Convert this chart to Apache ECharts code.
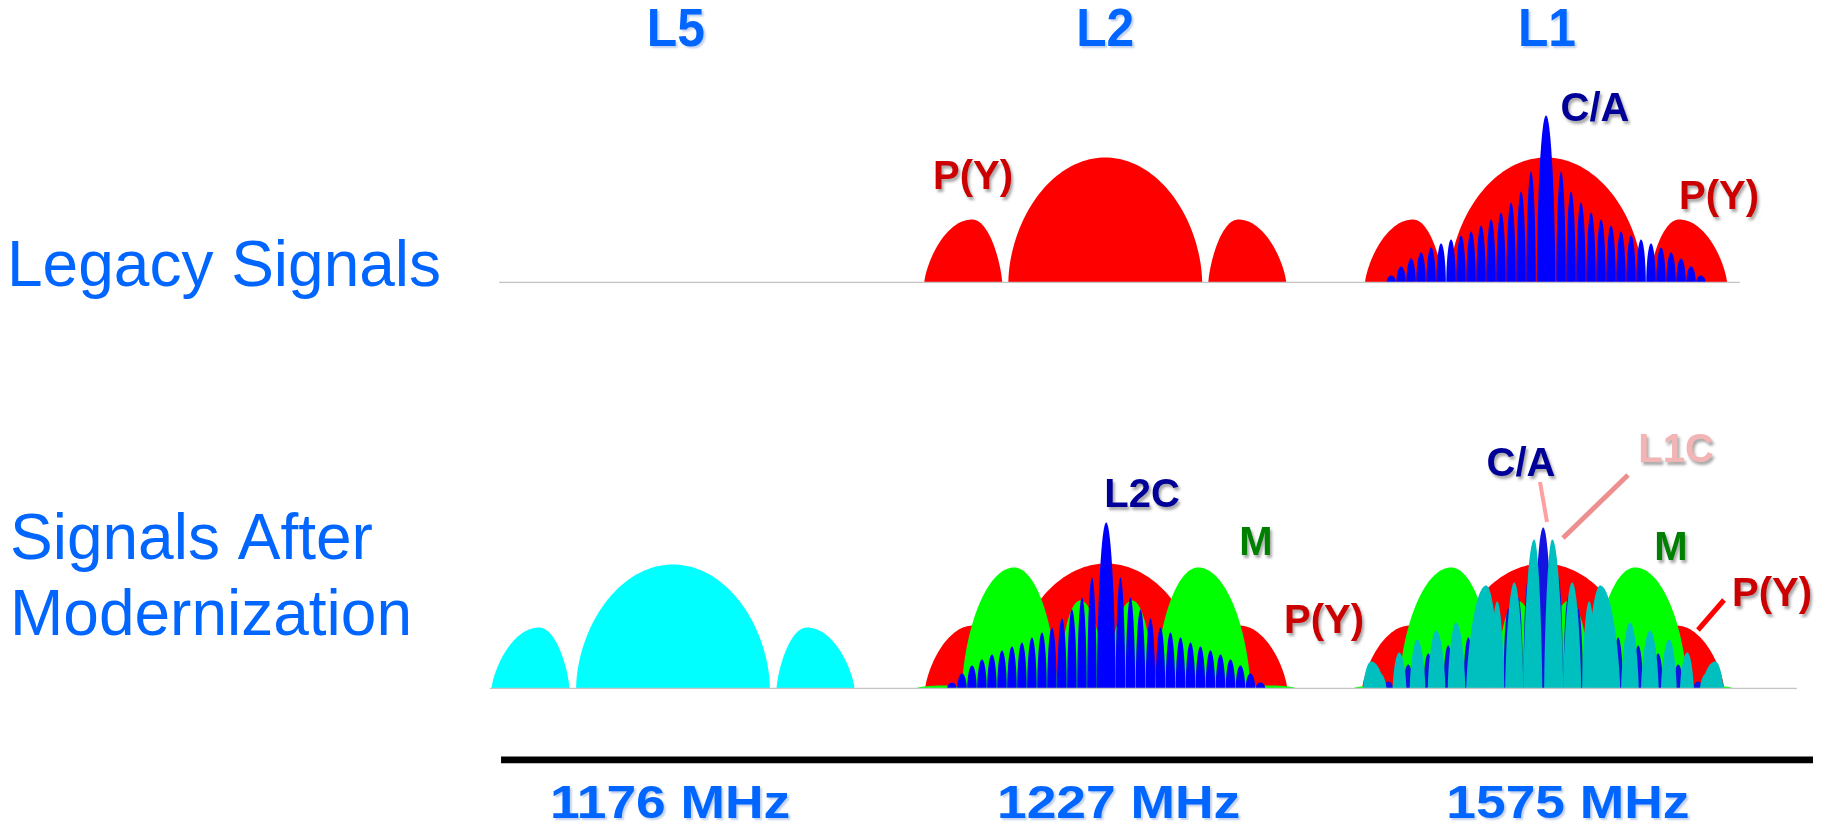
<!DOCTYPE html>
<html><head><meta charset="utf-8">
<script src="https://cdn.jsdelivr.net/npm/echarts@6/dist/echarts.min.js"></script>
<style>html,body{margin:0;padding:0;background:#fff;}#c{width:1826px;height:826px;}</style>
</head><body><div id="c"></div>
<script>
// ---------------- DATA (schematic frequency axis, MHz; power in relative units) ----------------
const bandNames = ['L5', 'L2', 'L1'];
const bandNamePos = [0.3, 45.5, 92.0];
const freqLabels = ['1176 MHz', '1227 MHz', '1575 MHz'];
const freqLabelPos = [-0.3, 46.9, 94.2];

// carrier positions on the schematic axis
const legacyCenters = { L2: 45.5, L1: 91.9 };
const modernCenters = { L5: 0.0, L2: 45.6, L1: 91.6 };

// baselines [start, end]
const legacyBaseline = [-18.3, 112.3];
const modernBaseline = [-19.3, 118.3];
const freqAxisRange = [-18.1, 120.0];

// lobes: [start offset, peak offset, end offset, peak power]
const pyLobes = [[-19.05, -14.0, -10.85, 31.5], [-10.2, 0, 10.2, 62.5], [10.85, 14.0, 19.05, 31.5]];
const l5Lobes = [[-19.1, -14.1, -10.9, 30.5], [-10.2, 0, 10.2, 62], [10.9, 14.1, 19.1, 30.5]];
const mLobes = [[-20.0, -17.2, -15.0, 1.5], [-15.16, -9.68, -5.16, 60.5], [-4.95, -2.74, -0.21, 44],
                [0.21, 2.74, 4.95, 44], [5.16, 9.68, 15.16, 60.5], [15.0, 17.2, 20.0, 1.5]];
const l1cLobes = [
  [-18.95, -18.11, -16.7, 13.5], [-17.8, -17.16, -16.5, 7.5], [-15.85, -15.16, -14.4, 18],
  [-14.05, -13.26, -12.4, 24.5], [-12.15, -11.26, -10.3, 29], [-10.05, -9.16, -8.2, 33],
  [-8.1, -6.0, -4.6, 51.5], [-5.6, -4.84, -4.1, 43.5], [-4.0, -3.05, -2.1, 53],
  [-2.1, -0.95, -0.1, 74.5], [0.1, 0.95, 2.1, 74.5], [2.1, 3.05, 4.0, 53],
  [4.1, 4.84, 5.6, 43.5], [4.6, 6.0, 8.1, 51.5], [8.2, 9.16, 10.05, 33],
  [10.3, 11.26, 12.15, 29], [12.4, 13.26, 14.05, 24.5], [14.4, 15.16, 15.85, 18],
  [16.5, 17.16, 17.8, 7.5], [16.7, 18.11, 18.95, 13.5]
];

// narrow spectral lines (C/A, L2C): offsets and peak power
const caOffsets = [-16.3, -15.26, -14.21, -13.16, -12.1, -11.05, -10.0, -8.95, -7.89, -6.84, -5.79, -4.74, -3.68, -2.63, -1.58, 0,
                   1.58, 2.63, 3.68, 4.74, 5.79, 6.84, 7.89, 8.95, 10.0, 11.05, 12.1, 13.16, 14.21, 15.26, 16.3];
const caLegacyHeights = [3.5, 8, 12, 15, 17.5, 19.5, 21.5, 23.5, 25.5, 28.5, 31.5, 35, 40, 45.5, 55.5, 83.5,
                         55.5, 45.5, 40, 35, 31.5, 28.5, 25.5, 23.5, 21.5, 19.5, 17.5, 15, 12, 8, 3.5];
const caModernHeights = [3.5, 8, 12, 15, 17.5, 19.5, 21.5, 23.5, 25.5, 28.5, 31.5, 35, 40, 45.5, 55.5, 80.5,
                         55.5, 45.5, 40, 35, 31.5, 28.5, 25.5, 23.5, 21.5, 19.5, 17.5, 15, 12, 8, 3.5];
const l2cOffsets = [-16.24, -15.18, -14.13, -13.08, -12.03, -10.97, -9.92, -8.87, -7.82, -6.76, -5.71, -4.66, -3.61, -2.55, -1.5, 0,
                    1.5, 2.55, 3.61, 4.66, 5.71, 6.76, 7.82, 8.87, 9.92, 10.97, 12.03, 13.08, 14.13, 15.18, 16.24];
const l2cHeights = [3, 7.5, 11.5, 14.5, 17, 19, 21, 23, 25.5, 28, 30.5, 35, 39.5, 45.5, 55.5, 83,
                    55.5, 45.5, 39.5, 35, 30.5, 28, 25.5, 23, 21, 19, 17, 14.5, 11.5, 7.5, 3];

// ---------------- RENDERING ----------------
const chart = echarts.init(document.getElementById('c'), null, { renderer: 'canvas' });
const FONT = "'Liberation Sans', Arial, Helvetica, sans-serif";
const LINE_HW = 0.5, MAIN_HW = 0.98;

function spikesToLobes(offsets, heights) {
  return offsets.map((o, i) => {
    const hw = o === 0 ? MAIN_HW : LINE_HW;
    return [o - hw, o, o + hw, heights[i]];
  });
}

// kMain / kSide: curvature of lobe outline (0.5 = semi-ellipse, 1 = parabola)
function lobeSeries(grid, center, lobes, color, kMain, kSide) {
  return {
    type: 'custom', xAxisIndex: grid, yAxisIndex: grid, silent: true, clip: false,
    data: lobes.map(l => [center + l[0], center + l[1], center + l[2], l[3], (l[0] < 0 && l[2] > 0) ? 1 : 0]),
    encode: { x: [0, 1, 2], y: 3 },
    renderItem: function (params, api) {
      const xs = api.coord([api.value(0), 0])[0];
      const xe = api.coord([api.value(2), 0])[0];
      const pk = api.coord([api.value(1), api.value(3)]);
      const y0 = api.coord([api.value(1), 0])[1];
      const xp = pk[0], hp = y0 - pk[1];
      const k = api.value(4) ? kMain : kSide;
      const pts = [], N = 48;
      for (let i = 0; i <= N; i++) { const a = Math.PI / 2 * i / N; pts.push([xp - (xp - xs) * Math.cos(a), y0 - hp * Math.pow(Math.sin(a), 2 * k)]); }
      for (let i = 1; i <= N; i++) { const a = Math.PI / 2 * (1 - i / N); pts.push([xp + (xe - xp) * Math.cos(a), y0 - hp * Math.pow(Math.sin(a), 2 * k)]); }
      return { type: 'polygon', shape: { points: pts }, style: { fill: color } };
    }
  };
}

function lineSeries(grid, range, color, width) {
  return {
    type: 'line', xAxisIndex: grid, yAxisIndex: grid, silent: true, symbol: 'none', animation: false,
    data: [[range[0], 0], [range[1], 0]], lineStyle: { color: color, width: width }
  };
}

function textSeries(grid, pos, labels, yAnchor, dy, size, sx, color) {
  return {
    type: 'custom', xAxisIndex: grid, yAxisIndex: grid, silent: true, clip: false,
    data: pos.map((p, i) => [p, yAnchor, labels[i]]),
    renderItem: function (params, api) {
      const c = api.coord([api.value(0), api.value(1)]);
      return { type: 'text', x: c[0], y: c[1] + dy, scaleX: sx, style: {
        text: labels[params.dataIndex], font: 'bold ' + size + 'px ' + FONT, fill: color,
        align: 'center', verticalAlign: 'middle',
        textShadowColor: 'rgba(120,150,210,0.45)', textShadowBlur: 2, textShadowOffsetX: 2, textShadowOffsetY: 2 } };
    }
  };
}

const X_MIN = -20, X_MAX = 120;
const gridBase = { left: 483, width: 1330, outerBoundsMode: 'none', containLabel: false };
const hiddenX = idx => ({ type: 'value', gridIndex: idx, min: X_MIN, max: X_MAX, show: false });
const hiddenY = (idx, max) => ({ type: 'value', gridIndex: idx, min: 0, max: max, show: false });

const RED = '#ff0000', BLUE = '#0000ff', GREEN = '#00ff00', CYAN = '#00ffff', TEAL = '#00bfbf';
const K_MAIN = 0.55, K_SIDE = 0.72;

const series = [
  lineSeries(0, legacyBaseline, '#c4c4c4', 1.5),
  lineSeries(1, modernBaseline, '#c4c4c4', 1.5),
  lineSeries(2, freqAxisRange, '#000000', 7),
  // legacy
  lobeSeries(0, legacyCenters.L2, pyLobes, RED, K_MAIN, K_SIDE),
  lobeSeries(0, legacyCenters.L1, pyLobes, RED, K_MAIN, K_SIDE),
  lobeSeries(0, legacyCenters.L1, spikesToLobes(caOffsets, caLegacyHeights), BLUE, 0.6, 0.55),
  // modernized
  lobeSeries(1, modernCenters.L5, l5Lobes, CYAN, K_MAIN, K_SIDE),
  lobeSeries(1, modernCenters.L2, pyLobes, RED, K_MAIN, K_SIDE),
  lobeSeries(1, modernCenters.L2, mLobes, GREEN, 0.6, 0.6),
  lobeSeries(1, modernCenters.L2, spikesToLobes(l2cOffsets, l2cHeights), BLUE, 0.6, 0.55),
  lobeSeries(1, modernCenters.L1, pyLobes, RED, K_MAIN, K_SIDE),
  lobeSeries(1, modernCenters.L1, mLobes, GREEN, 0.6, 0.6),
  lobeSeries(1, modernCenters.L1, spikesToLobes(caOffsets, caModernHeights), '#1414e0', 0.6, 0.55),
  lobeSeries(1, modernCenters.L1, l1cLobes, TEAL, 0.7, 0.7),
  // band names and frequency labels
  textSeries(0, bandNamePos, bandNames, 100, -51.5, 54, 0.92, '#0066ff'),
  textSeries(2, freqLabelPos, freqLabels, 0, 45, 46, 1.16, '#0066ff')
];

function label(text, x, y, color, size) {
  return { type: 'text', x: x, y: y, z: 100, silent: true, style: {
    text: text, font: 'bold ' + (size || 40) + 'px ' + FONT, fill: color, align: 'center', verticalAlign: 'middle',
    textShadowColor: 'rgba(0,0,0,0.35)', textShadowBlur: 3, textShadowOffsetX: 2, textShadowOffsetY: 3 } };
}
function rowLabel(text, x, y) {
  return { type: 'text', x: x, y: y, z: 100, silent: true, style: {
    text: text, font: '64px ' + FONT, fill: '#0066ff', align: 'left', verticalAlign: 'middle' } };
}
function leader(x1, y1, x2, y2, color, w) {
  return { type: 'line', z: 100, silent: true, shape: { x1: x1, y1: y1, x2: x2, y2: y2 }, style: { stroke: color, lineWidth: w } };
}

const option = {
  backgroundColor: '#ffffff',
  animation: false,
  grid: [
    Object.assign({ top: 82.5, height: 200 }, gridBase),
    Object.assign({ top: 488.5, height: 200 }, gridBase),
    Object.assign({ top: 755, height: 5 }, gridBase)
  ],
  xAxis: [hiddenX(0), hiddenX(1), hiddenX(2)],
  yAxis: [hiddenY(0, 100), hiddenY(1, 100), hiddenY(2, 1)],
  series: series,
  graphic: [
    rowLabel('Legacy Signals', 7, 268),
    rowLabel('Signals After', 10, 541.5),
    rowLabel('Modernization', 10, 617),
    label('P(Y)', 973, 177.5, '#cc0000'),
    label('C/A', 1595, 109.5, '#000099'),
    label('P(Y)', 1719, 198, '#cc0000'),
    label('L2C', 1142, 496, '#000099'),
    label('M', 1256, 543.5, '#008000'),
    label('P(Y)', 1324, 622, '#cc0000'),
    label('C/A', 1521, 464.5, '#000099'),
    label('L1C', 1676, 450.5, '#f2b4b4'),
    label('M', 1671, 549, '#008000'),
    label('P(Y)', 1772, 595, '#cc0000'),
    leader(1540, 482, 1547, 522, '#ffa0a0', 4),
    leader(1628, 475, 1563, 538, '#ee8f8f', 5),
    leader(1724, 600, 1698, 630, '#ff0000', 5)
  ]
};
chart.setOption(option);
</script>
</body></html>
